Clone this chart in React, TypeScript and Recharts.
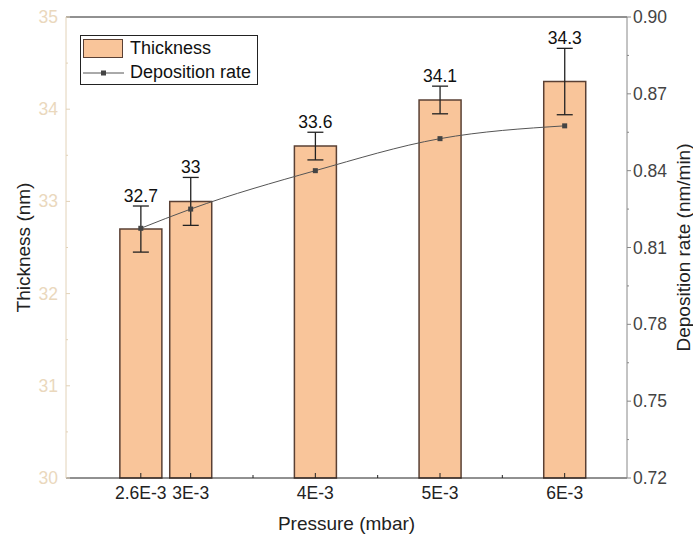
import {
  Bar,
  ComposedChart,
  ErrorBar,
  Label,
  LabelList,
  Line,
  ReferenceLine,
  XAxis,
  YAxis
} from "recharts";

// pressure in units of 1E-3 mbar
const pressure = [2.6, 3, 4, 5, 6];
const pressureLabels = ["2.6E-3", "3E-3", "4E-3", "5E-3", "6E-3"];
const thickness = [32.7, 33, 33.6, 34.1, 34.3];
const thicknessErr = [0.25, 0.26, 0.15, 0.15, 0.36];
const depositionRate = [0.8175, 0.825, 0.84, 0.8525, 0.8575];

const xTicks = [2.6, 3, 3.5, 4, 4.5, 5, 5.5, 6];
const thicknessTicks = [30, 30.5, 31, 31.5, 32, 32.5, 33, 33.5, 34, 34.5, 35];
const rateTicks = [0.72, 0.735, 0.75, 0.765, 0.78, 0.795, 0.81, 0.825, 0.84, 0.855, 0.87, 0.885, 0.9];

const data = pressure.map((p, i) => ({
  p,
  thickness: thickness[i],
  err: thicknessErr[i],
  rate: depositionRate[i]
}));

const font = "'Liberation Sans', Arial, sans-serif";
const tan = "#ead8bd";
const tanLine = "#e2d2b8";
const barFill = "#f9c59a";
const barStroke = "#5a4034";
const tickFont = 17.5;
const titleFont = 19;

function LeftTick({ x, y, payload }: any) {
  const major = Number.isInteger(payload.value);
  return (
    <g>
      <line x1={x} x2={x + (major ? 4 : 2)} y1={y} y2={y} stroke={tanLine} />
      {major && (
        <text x={x - 8} y={y} textAnchor="end" dominantBaseline="central" fill={tan} fontSize={tickFont} fontFamily={font}>
          {payload.value}
        </text>
      )}
    </g>
  );
}

function RightTick({ x, y, payload }: any) {
  const major = rateTicks.indexOf(payload.value) % 2 === 0;
  return (
    <g>
      <line x1={x} x2={x + (major ? 4 : 2)} y1={y} y2={y} stroke="#888" />
      {major && (
        <text x={x + 6} y={y} textAnchor="start" dominantBaseline="central" fill="#444" fontSize={tickFont} fontFamily={font}>
          {payload.value.toFixed(2)}
        </text>
      )}
    </g>
  );
}

function BottomTick({ x, y, payload }: any) {
  const idx = pressure.indexOf(payload.value);
  return (
    <g>
      <line x1={x} x2={x} y1={y} y2={y - (idx >= 0 ? 5 : 3)} stroke="#222" />
      {idx >= 0 && (
        <text x={x} y={y + 15} textAnchor="middle" dominantBaseline="central" fill="#222" fontSize={tickFont} fontFamily={font}>
          {pressureLabels[idx]}
        </text>
      )}
    </g>
  );
}

function ValueLabel(props: any) {
  const { x, y, width, height, value } = props;
  const i = thickness.indexOf(value);
  const pxPerUnit = height / (value - 30);
  const top = y - thicknessErr[i] * pxPerUnit;
  return (
    <text x={x + width / 2} y={top - 10} textAnchor="middle" dominantBaseline="central" fill="#111" fontSize={17.5} fontFamily={font}>
      {value}
    </text>
  );
}

function Legend() {
  return (
    <div
      style={{
        position: "absolute",
        left: 80,
        top: 35,
        width: 178,
        height: 50,
        border: "1px solid #222",
        boxSizing: "border-box",
        background: "#fff",
        fontFamily: font,
        fontSize: 18,
        color: "#111"
      }}
    >
      <div style={{ position: "absolute", left: 2, top: 3, width: 40, height: 19, background: barFill, border: `1px solid ${barStroke}`, boxSizing: "border-box" }} />
      <div style={{ position: "absolute", left: 49, top: 2, lineHeight: "20px" }}>Thickness</div>
      <svg style={{ position: "absolute", left: 2, top: 27 }} width={42} height={20}>
        <line x1={0} x2={41} y1={10} y2={10} stroke="#555" />
        <rect x={18} y={7.5} width={5} height={5} fill="#444" />
      </svg>
      <div style={{ position: "absolute", left: 49, top: 26, lineHeight: "20px" }}>Deposition rate</div>
    </div>
  );
}

export default function App() {
  return (
    <div style={{ position: "absolute", left: 0, top: 0, width: 693, height: 539, background: "#fff" }}>
      <ComposedChart width={693} height={539} data={data} margin={{ top: 17, right: 0, bottom: 0, left: 0 }}>
        <XAxis
          dataKey="p"
          type="number"
          domain={[2, 6.5]}
          ticks={xTicks}
          interval={0}
          height={61}
          tickSize={0}
          tickMargin={0}
          tickLine={false}
          axisLine={{ stroke: "#222" }}
          tick={<BottomTick />}
        >
          <Label
            content={({ viewBox }: any) => (
              <text x={viewBox.x + viewBox.width / 2} y={viewBox.y + 45} textAnchor="middle" dominantBaseline="central" fill="#222" fontSize={titleFont} fontFamily={font}>
                Pressure (mbar)
              </text>
            )}
          />
        </XAxis>
        <YAxis
          yAxisId="left"
          domain={[30, 35]}
          ticks={thicknessTicks}
          interval={0}
          width={66}
          tickSize={0}
          tickMargin={0}
          tickLine={false}
          axisLine={{ stroke: tanLine }}
          tick={<LeftTick />}
        >
          <Label
            content={({ viewBox }: any) => (
              <text
                x={23}
                y={viewBox.y + viewBox.height / 2}
                transform={`rotate(-90 23 ${viewBox.y + viewBox.height / 2})`}
                textAnchor="middle"
                dominantBaseline="central"
                fill="#222"
                fontSize={titleFont}
                fontFamily={font}
              >
                Thickness (nm)
              </text>
            )}
          />
        </YAxis>
        <YAxis
          yAxisId="right"
          orientation="right"
          domain={[0.72, 0.9]}
          ticks={rateTicks}
          interval={0}
          width={66}
          tickSize={0}
          tickMargin={0}
          tickLine={false}
          axisLine={{ stroke: "#888" }}
          tick={<RightTick />}
        >
          <Label
            content={({ viewBox }: any) => (
              <text
                x={683}
                y={viewBox.y + viewBox.height / 2}
                transform={`rotate(-90 683 ${viewBox.y + viewBox.height / 2})`}
                textAnchor="middle"
                dominantBaseline="central"
                fill="#222"
                fontSize={titleFont}
                fontFamily={font}
              >
                Deposition rate (nm/min)
              </text>
            )}
          />
        </YAxis>
        <ReferenceLine yAxisId="left" y={35} stroke="#222" />
        <Bar yAxisId="left" dataKey="thickness" barSize={42} fill={barFill} stroke={barStroke} strokeWidth={1.5} isAnimationActive={false}>
          <ErrorBar dataKey="err" direction="y" width={8} stroke="#222" strokeWidth={1.3} />
          <LabelList dataKey="thickness" content={<ValueLabel />} />
        </Bar>
        <Line
          yAxisId="right"
          dataKey="rate"
          type="monotone"
          stroke="#555"
          strokeWidth={1}
          isAnimationActive={false}
          dot={(p: any) => <rect key={p.index} x={p.cx - 2.5} y={p.cy - 2.5} width={5} height={5} fill="#444" />}
          activeDot={false}
        />
      </ComposedChart>
      <Legend />
    </div>
  );
}
